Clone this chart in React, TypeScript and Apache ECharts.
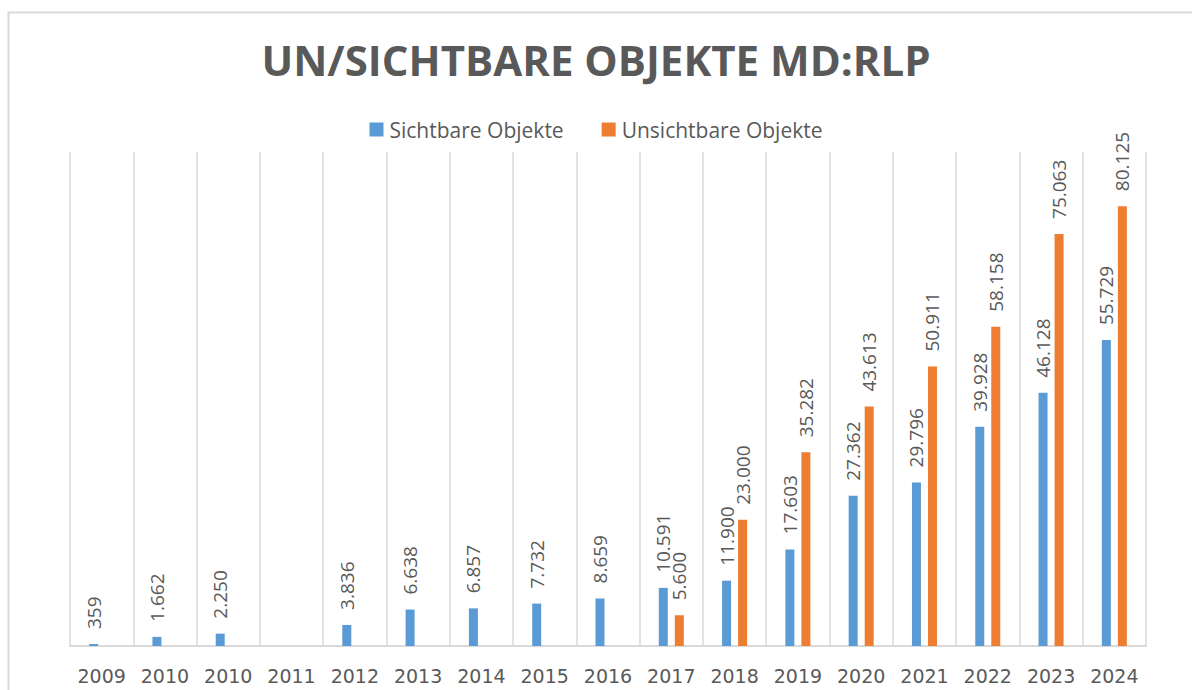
import React, { useEffect, useRef } from "react";
import * as echarts from "echarts";

const categories = ["2009", "2010", "2010", "2011", "2012", "2013", "2014", "2015", "2016", "2017", "2018", "2019", "2020", "2021", "2022", "2023", "2024"];
const sichtbare: (number | null)[] = [359, 1662, 2250, null, 3836, 6638, 6857, 7732, 8659, 10591, 11900, 17603, 27362, 29796, 39928, 46128, 55729];
const unsichtbare: (number | null)[] = [null, null, null, null, null, null, null, null, null, 5600, 23000, 35282, 43613, 50911, 58158, 75063, 80125];
const seriesNames = ["Sichtbare Objekte", "Unsichtbare Objekte"];
const titleText = "UN/SICHTBARE OBJEKTE MD:RLP";

const fmt = (v: any) => {
  if (v === null || v === undefined || v === "-" || isNaN(Number(v))) return "";
  return String(v).replace(/\B(?=(\d{3})+(?!\d))/g, ".");
};

export default function App() {
  const ref = useRef<HTMLDivElement>(null);
  useEffect(() => {
    document.body.style.margin = "0";
    if (!ref.current) return;
    const chart = echarts.init(ref.current, undefined, { renderer: "svg" });
    const labelCfg = {
      show: true,
      position: "top",
      rotate: 90,
      align: "left",
      verticalAlign: "middle",
      distance: 15,
      color: "#595959",
      fontSize: 19,
      fontFamily: "Open Sans",
      formatter: (p: any) => fmt(p.value),
    };
    chart.setOption({
      animation: false,
      backgroundColor: "#ffffff",
      title: {
        text: titleText,
        left: "center",
        top: 38,
        padding: [0, 0, 0, 12],
        textStyle: { fontFamily: "Open Sans", fontWeight: "bold", fontSize: 42, color: "#595959" },
      },
      legend: {
        data: seriesNames,
        top: 114,
        left: "center",
        itemWidth: 14,
        itemHeight: 14,
        itemGap: 38,
        icon: "rect",
        textStyle: { fontFamily: "Open Sans", fontSize: 21, color: "#595959", padding: [0, 0, 0, 1] },
      },
      graphic: [
        {
          type: "rect",
          left: 6,
          top: 10,
          shape: { width: 1200, height: 700 },
          style: { fill: "none", stroke: "#d9d9d9", lineWidth: 2 },
          silent: true,
        },
      ],
      grid: { left: 70, right: 46, top: 152, bottom: 44 },
      xAxis: {
        type: "category",
        data: categories,
        axisLine: { show: true, lineStyle: { color: "#d9d9d9", width: 2 } },
        axisTick: { show: false },
        splitLine: { show: true, lineStyle: { color: "#d9d9d9", width: 1.5 } },
        axisLabel: { interval: 0, margin: 20, color: "#595959", fontSize: 19, fontFamily: "DejaVu Sans" },
      },
      yAxis: {
        type: "value",
        min: 0,
        max: 90000,
        show: false,
        splitLine: { show: false },
      },
      series: [
        {
          name: seriesNames[0],
          type: "bar",
          data: sichtbare.map((v) => (v === null ? "-" : v)),
          barWidth: 9,
          barGap: "78%",
          itemStyle: { color: "#5B9BD5" },
          label: labelCfg,
        },
        {
          name: seriesNames[1],
          type: "bar",
          data: unsichtbare.map((v) => (v === null ? "-" : v)),
          barWidth: 9,
          barGap: "78%",
          itemStyle: { color: "#ED7D31" },
          label: labelCfg,
        },
      ],
    });
    return () => chart.dispose();
  }, []);
  return <div ref={ref} style={{ width: 1192, height: 690 }} />;
}
